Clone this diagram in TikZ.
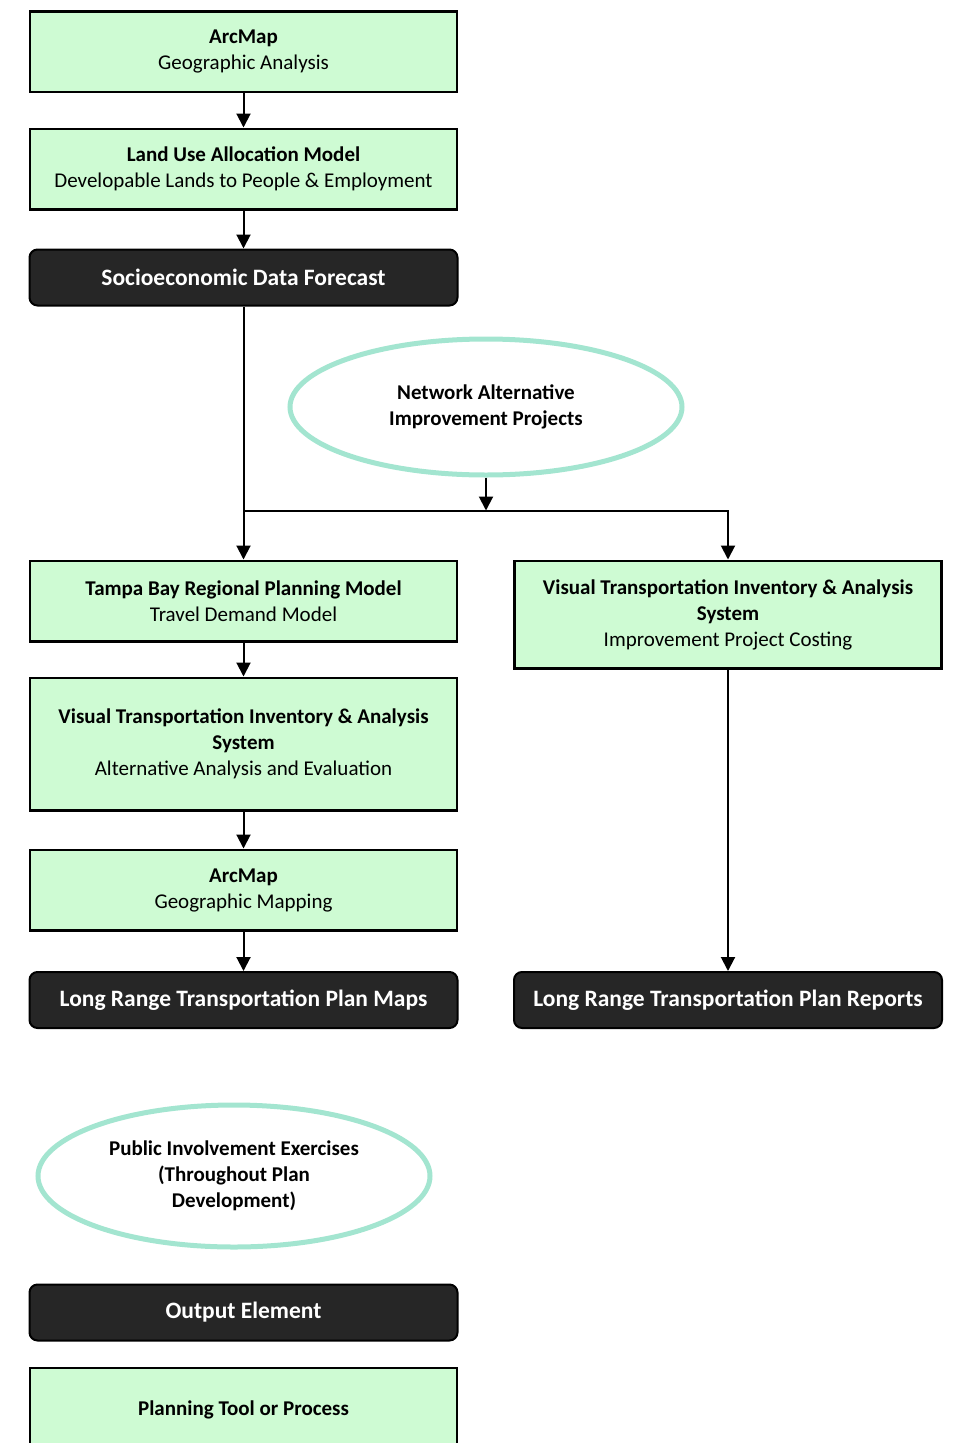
\documentclass[tikz,border=0pt]{standalone}
\usepackage{fontspec}
\setmainfont{Carlito}
\usepackage{tikz}
\usetikzlibrary{positioning,shapes.geometric,arrows.meta}
\definecolor{toolgreen}{RGB}{206,251,211}
\definecolor{outdark}{RGB}{38,38,38}
\definecolor{ringteal}{RGB}{163,229,208}

\begin{document}
\begin{tikzpicture}[x=1pt, y=1pt,
    toolbox/.style={rectangle, draw=black, line width=2.5pt, fill=toolgreen, minimum width=427pt, minimum height=80.5pt, inner sep=0pt, align=center, font=\fontsize{21}{26}\selectfont},
    outbox/.style={rectangle, rounded corners=8pt, draw=black, line width=2pt, fill=outdark, text=white, minimum width=428pt, minimum height=56pt, inner sep=0pt, align=center, font=\fontsize{23.5}{26}\selectfont\bfseries},
    ringnode/.style={ellipse, draw=ringteal, line width=5pt, fill=white, minimum width=392pt, align=center, font=\fontsize{21}{26}\selectfont\bfseries},
    flow/.style={line width=2pt, -{Triangle[width=14pt,length=14pt]}}]
    \useasboundingbox (0,0) rectangle (953,-1443);
    %Nodes
    \node[toolbox]    (arcgeo)                              at (243.5,-51.5) {\textbf{ArcMap}\\Geographic Analysis};
    \node[toolbox]    (landuse)   [below=34.5pt of arcgeo]  {\textbf{Land Use Allocation Model}\\Developable Lands to People \& Employment};
    \node[outbox]     (socio)     [below=38pt of landuse]   {Socioeconomic Data Forecast};
    \node[ringnode, minimum height=136pt] (netalt) at (486,-407) {Network Alternative\\Improvement Projects};
    \node[toolbox]    (tbrpm)     [below=253pt of socio]    {\textbf{Tampa Bay Regional Planning Model}\\Travel Demand Model};
    \node[toolbox, minimum height=107.5pt] (vtiascost) [right=55pt of tbrpm.north east, anchor=north west] {\textbf{Visual Transportation Inventory \& Analysis}\\\textbf{System}\\Improvement Project Costing};
    \node[toolbox, minimum height=132.5pt] (vtiasalt) [below=34pt of tbrpm] {\textbf{Visual Transportation Inventory \& Analysis}\\\textbf{System}\\Alternative Analysis and Evaluation};
    \node[toolbox]    (arcmap)    [below=37pt of vtiasalt]  {\textbf{ArcMap}\\Geographic Mapping};
    \node[outbox]     (lrtpmaps)  [below=39.5pt of arcmap]  {Long Range Transportation Plan Maps};
    \node[outbox]     (lrtprep)   at (lrtpmaps -| vtiascost) {Long Range Transportation Plan Reports};
    \node[ringnode, minimum height=142pt] (public) at (234,-1176) {Public Involvement Exercises\\(Throughout Plan\\Development)};
    \node[outbox]     (outkey)    at (243.5,-1312.5)        {Output Element};
    \node[toolbox, minimum height=84pt] (toolkey) at (243.5,-1410) {\textbf{Planning Tool or Process}};
    \coordinate[below=33pt of netalt.south] (split);

    %Lines
    \draw[flow] (arcgeo.south) -- (landuse.north);
    \draw[flow] (landuse.south) -- (socio.north);
    \draw[flow] (socio.south) -- (tbrpm.north);
    \draw[flow] (netalt.south) -- (split);
    \draw[flow] (socio.south |- split) -| (vtiascost.north);
    \draw[flow] (tbrpm.south) -- (vtiasalt.north);
    \draw[flow] (vtiasalt.south) -- (arcmap.north);
    \draw[flow] (arcmap.south) -- (lrtpmaps.north);
    \draw[flow] (vtiascost.south) -- (lrtprep.north);
\end{tikzpicture}
\end{document}
